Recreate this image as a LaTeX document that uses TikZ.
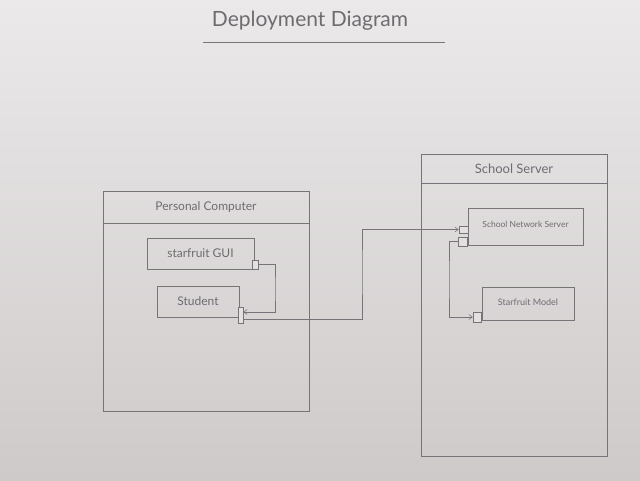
\documentclass[tikz,border=0pt]{standalone}
\usepackage{fontspec}
\setmainfont{Lato}
\usetikzlibrary{arrows.meta}
\definecolor{paperTop}{RGB}{235,233,234}
\definecolor{paperMid}{RGB}{227,224,225}
\definecolor{paperBottom}{RGB}{207,202,202}
\definecolor{pencil}{RGB}{118,116,118}
\definecolor{ink}{RGB}{110,108,111}
\tikzset{
  box/.style={draw=pencil, line width=0.6pt, rectangle, inner sep=0pt, text=ink},
  header/.style={box, anchor=north},
  port/.style={draw=pencil, line width=0.5pt, rectangle, inner sep=0pt, fill=paperMid},
  wire/.style={draw=pencil, line width=0.55pt, -{Straight Barb[length=3.5pt,width=5pt]}},
  plain/.style={draw=pencil, line width=0.55pt},
}
\begin{document}
\begin{tikzpicture}[x=1pt,y=-1pt]
  % paper
  \shade[top color=paperTop, middle color=paperMid, bottom color=paperBottom] (0,0) rectangle (640,480);
  \useasboundingbox (0,0) rectangle (640,480);

  % title with underline
  \node[text=ink, font=\fontsize{21}{23}\selectfont] (title) at (310,21) {Deployment Diagram};
  \coordinate (ulA) at (203,42.5);
  \coordinate (ulB) at (445,42.5);
  \draw[plain] (ulA) -- (ulB);

  % Personal Computer node
  \node[box, minimum width=206pt, minimum height=220pt] (pc) at (206,301) {};
  \node[header, minimum width=206pt, minimum height=32pt, font=\fontsize{12}{14}\selectfont] (pchead) at (pc.north) {Personal Computer};
  \node[box, minimum width=107pt, minimum height=31pt, font=\fontsize{12}{14}\selectfont] (gui) at (200.5,253.5) {starfruit GUI};
  \node[port, minimum width=6pt, minimum height=9pt] (guiport) at (255,264.5) {};
  \node[box, minimum width=82pt, minimum height=31pt, font=\fontsize{12}{14}\selectfont] (student) at (198,301.5) {Student};
  \node[port, minimum width=5pt, minimum height=16pt] (stport) at (240.5,315) {};

  % School Server node
  \node[box, minimum width=186pt, minimum height=302pt] (ss) at (514,305) {};
  \node[header, minimum width=186pt, minimum height=29pt, font=\fontsize{13}{15}\selectfont] (sshead) at (ss.north) {School Server};
  \node[box, minimum width=115pt, minimum height=37pt, font=\fontsize{8.5}{10}\selectfont] (sns) at (525.5,226.5) {\raisebox{5pt}{School Network Server}};
  \node[port, minimum width=9pt, minimum height=7pt] (snsportA) at (463.5,229.5) {};
  \node[port, minimum width=9pt, minimum height=9pt] (snsportB) at (462.5,241.5) {};
  \node[box, minimum width=92pt, minimum height=33pt, font=\fontsize{9}{11}\selectfont] (model) at (528,303.5) {\raisebox{2pt}{Starfruit Model}};
  \node[port, minimum width=8pt, minimum height=10pt] (modelport) at (477,317) {};

  % connectors
  \coordinate (bendA) at (275,290);
  \coordinate (bendB) at (362,270);
  \coordinate (bendC) at (449,280);
  \draw[wire] (guiport.east) -| (bendA) |- ([yshift=3pt]stport.east);
  \draw[wire] ([yshift=-4pt]stport.east) -| (bendB) |- (snsportA.west);
  \draw[wire] (snsportB.west) -| (bendC) |- (modelport.west);
\end{tikzpicture}
\end{document}
